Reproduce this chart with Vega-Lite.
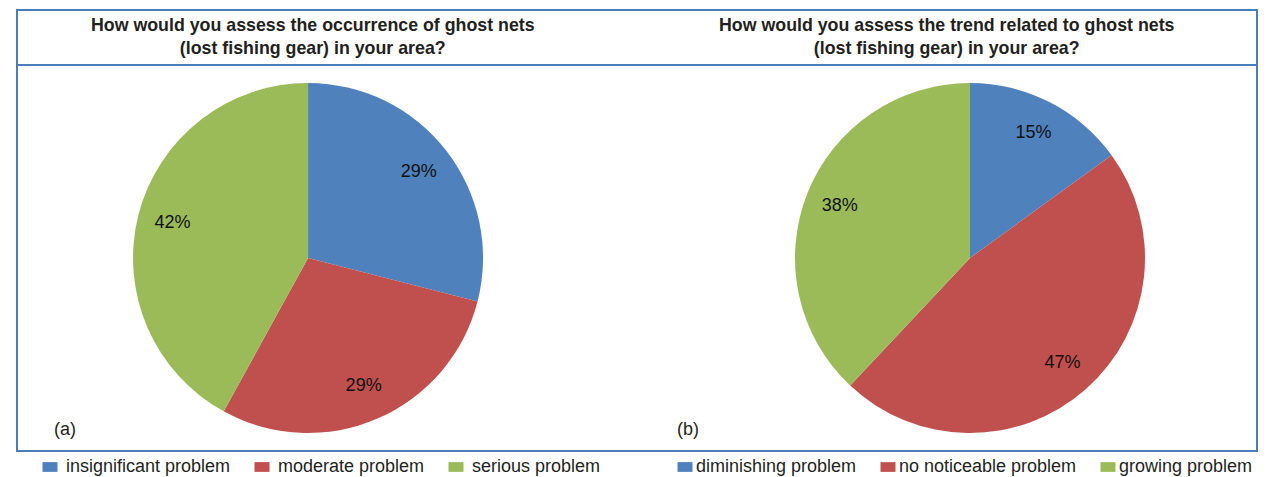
{
  "$schema": "https://vega.github.io/schema/vega-lite/v6.json",
  "padding": {"left": 16, "top": 9, "right": 14, "bottom": 0},
  "spacing": 0,
  "bounds": "flush",
  "background": "white",
  "config": {
    "view": {"stroke": "#4a7ebb", "strokeWidth": 2},
    "font": "Liberation Sans"
  },
  "datasets": {
    "titles": [
      {"chart": "a", "title": ["How would you assess the occurrence of ghost nets", "(lost fishing gear) in your area?"]},
      {"chart": "b", "title": ["How would you assess the trend related to ghost nets", "(lost fishing gear) in your area?"]}
    ],
    "occurrence": [
      {"chart": "a", "category": "insignificant problem", "value": 0.29, "n": 1},
      {"chart": "a", "category": "moderate problem", "value": 0.29, "n": 2},
      {"chart": "a", "category": "serious problem", "value": 0.42, "n": 3}
    ],
    "trend": [
      {"chart": "b", "category": "diminishing problem", "value": 0.15, "n": 1},
      {"chart": "b", "category": "no noticeable problem", "value": 0.47, "n": 2},
      {"chart": "b", "category": "growing problem", "value": 0.38, "n": 3}
    ],
    "panels": [
      {"chart": "a", "tag": "(a)"},
      {"chart": "b", "tag": "(b)"}
    ]
  },
  "vconcat": [
    {
      "width": 1240,
      "height": 55,
      "data": {"name": "titles"},
      "mark": {"type": "text", "font": "Liberation Sans", "fontSize": 17.8, "fontWeight": "bold", "fill": "#231f20", "lineHeight": 23, "baseline": "middle", "align": "center", "dy": -11.5},
      "encoding": {
        "x": {"field": "chart", "type": "nominal", "scale": {"type": "point", "domain": ["a", "b"], "padding": 0.478, "align": 0.488}, "axis": null},
        "text": {"field": "title"}
      }
    },
    {
      "width": 1240,
      "height": 386,
      "resolve": {"scale": {"x": "independent", "color": "independent"}},
      "layer": [
        {
          "data": {"name": "occurrence"},
          "mark": {"type": "arc", "outerRadius": 175},
          "encoding": {
            "x": {"field": "chart", "type": "nominal", "scale": {"type": "point", "domain": ["a", "b"], "padding": 0.4366, "align": 0.5035}, "axis": null},
            "theta": {"field": "value", "type": "quantitative", "stack": true},
            "order": {"field": "n", "type": "quantitative"},
            "color": {
              "field": "category", "type": "nominal",
              "scale": {"domain": ["insignificant problem", "moderate problem", "serious problem"], "range": ["#4f81bd", "#c0504d", "#9bbb59"]},
              "legend": {"orient": "none", "legendX": 24, "legendY": 393, "direction": "horizontal", "title": null, "symbolType": "M-1,-0.65H1V0.65H-1Z", "symbolSize": 225, "symbolStrokeWidth": 0, "labelFontSize": 18, "labelFont": "Liberation Sans", "labelColor": "#231f20", "labelOffset": 7, "labelLimit": 400, "columnPadding": 22, "padding": 0}
            }
          }
        },
        {
          "data": {"name": "trend"},
          "mark": {"type": "arc", "outerRadius": 175},
          "encoding": {
            "x": {"field": "chart", "type": "nominal", "scale": {"type": "point", "domain": ["a", "b"], "padding": 0.4366, "align": 0.5035}, "axis": null},
            "theta": {"field": "value", "type": "quantitative", "stack": true},
            "order": {"field": "n", "type": "quantitative"},
            "color": {
              "field": "category", "type": "nominal",
              "scale": {"domain": ["diminishing problem", "no noticeable problem", "growing problem"], "range": ["#4f81bd", "#c0504d", "#9bbb59"]},
              "legend": {"orient": "none", "legendX": 659, "legendY": 393, "direction": "horizontal", "title": null, "symbolType": "M-1,-0.65H1V0.65H-1Z", "symbolSize": 225, "symbolStrokeWidth": 0, "labelFontSize": 18, "labelFont": "Liberation Sans", "labelColor": "#231f20", "labelOffset": 2, "labelLimit": 400, "columnPadding": 22, "padding": 0}
            }
          }
        },
        {
          "data": {"name": "occurrence"},
          "mark": {"type": "text", "radius": 140, "fontSize": 18, "fill": "#111111", "align": "center", "baseline": "middle"},
          "encoding": {
            "x": {"field": "chart", "type": "nominal", "scale": {"type": "point", "domain": ["a", "b"], "padding": 0.4366, "align": 0.5035}, "axis": null},
            "theta": {"field": "value", "type": "quantitative", "stack": true},
            "order": {"field": "n", "type": "quantitative"},
            "detail": {"field": "category", "type": "nominal"},
            "text": {"field": "value", "type": "quantitative", "format": ".0%"}
          }
        },
        {
          "data": {"name": "trend"},
          "mark": {"type": "text", "radius": 140, "fontSize": 18, "fill": "#111111", "align": "center", "baseline": "middle"},
          "encoding": {
            "x": {"field": "chart", "type": "nominal", "scale": {"type": "point", "domain": ["a", "b"], "padding": 0.4366, "align": 0.5035}, "axis": null},
            "theta": {"field": "value", "type": "quantitative", "stack": true},
            "order": {"field": "n", "type": "quantitative"},
            "detail": {"field": "category", "type": "nominal"},
            "text": {"field": "value", "type": "quantitative", "format": ".0%"}
          }
        },
        {
          "data": {"name": "panels"},
          "mark": {"type": "text", "fontSize": 18, "fill": "#231f20", "align": "center", "baseline": "middle", "dy": 172},
          "encoding": {
            "x": {"field": "chart", "type": "nominal", "scale": {"type": "point", "domain": ["a", "b"], "padding": 0.4952, "align": 0.0778}, "axis": null},
            "text": {"field": "tag", "type": "nominal"}
          }
        }
      ]
    }
  ]
}
